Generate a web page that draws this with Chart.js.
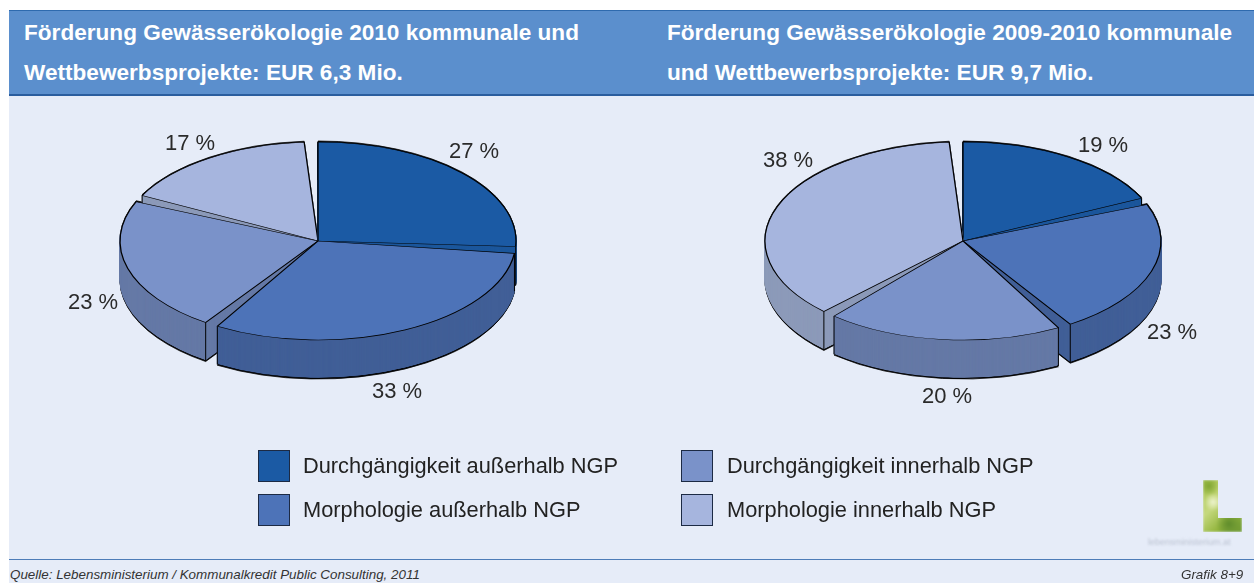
<!DOCTYPE html>
<html lang="de"><head><meta charset="utf-8">
<script src="https://cdn.jsdelivr.net/npm/chart.js@4"></script>
<style>
html,body{margin:0;padding:0;background:#fff;overflow:hidden}
#page{position:relative;width:1254px;height:583px;overflow:hidden;font-family:"Liberation Sans",Arial,sans-serif;color:#222}
#bg{position:absolute;left:9px;top:10px;right:0;bottom:0;background:#e6ecf8}
#head{position:absolute;left:9px;top:10px;right:0;height:83px;background:#5b8fcd;border-top:1px solid #2e6aae;border-bottom:2px solid #2a5d9e;box-sizing:content-box}
.h{position:absolute;color:#fff;font-weight:700;font-size:22.6px;line-height:40px;white-space:nowrap}
canvas{position:absolute}
.lab{position:absolute;font-size:22px;line-height:26px;transform:translate(-50%,-50%);white-space:nowrap;color:#2a2a2a}
.sw{position:absolute;width:30px;height:30px;border:1px solid #1c2a44;box-sizing:content-box}
.lt{position:absolute;font-size:21.8px;line-height:30px;white-space:nowrap;color:#222}
#rule{position:absolute;left:9px;right:0;top:559px;height:1px;background:#4d7cb8}
.f{position:absolute;top:567px;font-size:13.4px;line-height:15px;font-style:italic;color:#333;white-space:nowrap}
#logo{position:absolute;left:1203px;top:480px;width:39px;height:52px;filter:blur(.8px);
 background:
  radial-gradient(circle at 10px 22px,#eef4cf 0,rgba(238,244,207,0) 9px),
  radial-gradient(circle at 6px 6px,#7fa532 0,rgba(127,165,50,0) 10px),
  radial-gradient(circle at 26px 44px,#5f8c2c 0,rgba(95,140,44,0) 13px),
  linear-gradient(135deg,#a3c145,#c6d97f 40%,#94b63f 70%,#6f9a33);
 clip-path:polygon(0 0,15px 0,15px 38px,39px 38px,39px 52px,0 52px)}
#lt2{position:absolute;left:1148px;top:537px;font-size:9px;line-height:10px;color:#bcc3d2;filter:blur(.8px)}
</style></head>
<body><div id="page">
<div id="bg"></div><div id="head"></div>
<div class="h" style="left:24px;top:13px">Förderung Gewässerökologie 2010 kommunale und</div>
<div class="h" style="left:24px;top:53px">Wettbewerbsprojekte: EUR 6,3 Mio.</div>
<div class="h" style="left:667px;top:13px">Förderung Gewässerökologie 2009-2010 kommunale</div>
<div class="h" style="left:667px;top:53px">und Wettbewerbsprojekte: EUR 9,7 Mio.</div>
<canvas id="c1" style="left:0;top:0"></canvas>
<canvas id="c2" style="left:700px;top:0"></canvas>
<div id="labels"></div><div id="legend"></div>
<div id="logo"></div><div id="lt2">lebensministerium.at</div>
<div id="rule"></div>
<div class="f" style="left:10px">Quelle: Lebensministerium / Kommunalkredit Public Consulting, 2011</div>
<div class="f" style="left:1181px">Grafik 8+9</div>
</div>
<script>
const categories = ["Durchgängigkeit außerhalb NGP","Morphologie außerhalb NGP","Durchgängigkeit innerhalb NGP","Morphologie innerhalb NGP"];
const values2010 = [27,32.6,23,17.4];
const values20092010 = [19,23,20.4,37.6];
const topColors = ["#1b5aa4","#4d73b8","#7a92c9","#a6b5de"];
const wallColors = ["#1c579c","#415f97","#6579a6","#8c9ab9"];
const labelPos2010 = [[474,151],[397,391],[93,302],[190,143]];
const labelPos20092010 = [[1103,145],[1172,332],[947,396],[788,160]];
const legendPos = [[258,450,303],[258,494,303],[681,450,727],[681,494,727]];

const SQUASH = 0.5, DEPTH = 38, GAP = 4*Math.PI/180;
function style(fill, stroke, bw){
  return {backgroundColor:fill,borderColor:stroke,borderWidth:bw,borderAlign:'center',borderJoinStyle:'round',
          borderDash:[],borderDashOffset:0,spacing:0,offset:0,borderRadius:0,circular:true,selfJoin:false};
}
function drawAt(ctx, arc, dy, st){
  const saved = arc.options;
  arc.options = st;
  ctx.save();
  ctx.translate(arc.x, arc.y+dy);
  ctx.scale(1,SQUASH);
  ctx.translate(-arc.x,-arc.y);
  arc.draw(ctx);
  ctx.restore();
  arc.options = saved;
}
const pie3d = {
  id:'pie3d',
  afterDatasetsUpdate(chart){
    chart.getDatasetMeta(0).data.forEach(a=>{ a.endAngle -= GAP; a.circumference -= GAP; });
  },
  beforeDatasetsDraw(chart){
    const ctx = chart.ctx, arcs = chart.getDatasetMeta(0).data;
    const order = arcs.map((a,i)=>i).sort((p,q)=>
      Math.sin((arcs[p].startAngle+arcs[p].endAngle)/2)-Math.sin((arcs[q].startAngle+arcs[q].endAngle)/2));
    // silhouette
    arcs.forEach(a=>{ drawAt(ctx,a,-1,style('#000','#000',1)); drawAt(ctx,a,DEPTH+1,style('#000','#000',1)); });
    order.forEach(i=>{
      const a = arcs[i];
      drawAt(ctx,a,DEPTH,style(wallColors[i],'#000',1.2));
      ctx.save();ctx.fillStyle=wallColors[i];ctx.restore();
      for(let d=DEPTH-1;d>=1;d--) drawAt(ctx,a,d,style(wallColors[i],wallColors[i],1.5));
      ctx.save();ctx.strokeStyle='#000';ctx.lineWidth=1;
      [a.startAngle,a.endAngle].forEach(t=>{
        const x=a.x+a.outerRadius*Math.cos(t), y=a.y+SQUASH*a.outerRadius*Math.sin(t);
        ctx.beginPath();ctx.moveTo(x,y);ctx.lineTo(x,y+DEPTH);ctx.stroke();
      });
      ctx.restore();
      drawAt(ctx,a,0,style(topColors[i],'#000',1.3));
    });
    return false;
  }
};
function pie(id,w,h,vals){
  const cv=document.getElementById(id);cv.width=w;cv.height=h;
  return new Chart(cv,{type:'pie',
    data:{labels:categories,datasets:[{data:vals,backgroundColor:topColors,borderWidth:0,radius:198}]},
    options:{responsive:false,animation:false,events:[],layout:{padding:0},
      plugins:{legend:{display:false},tooltip:{enabled:false}}},
    plugins:[pie3d]});
}
pie('c1',636,482,values2010);
pie('c2',526,482,values20092010);

const labels=document.getElementById('labels');
[[values2010,labelPos2010],[values20092010,labelPos20092010]].forEach(([v,p])=>v.forEach((x,i)=>{
  const d=document.createElement('div');d.className='lab';d.textContent=Math.round(x)+' %';
  d.style.left=p[i][0]+'px';d.style.top=p[i][1]+'px';labels.appendChild(d);
}));
const legend=document.getElementById('legend');
categories.forEach((c,i)=>{
  const [x,y,tx]=legendPos[i];
  const s=document.createElement('div');s.className='sw';s.style.left=x+'px';s.style.top=y+'px';s.style.background=topColors[i];legend.appendChild(s);
  const t=document.createElement('div');t.className='lt';t.textContent=c;t.style.left=tx+'px';t.style.top=(y+1)+'px';legend.appendChild(t);
});
</script>
</body></html>
